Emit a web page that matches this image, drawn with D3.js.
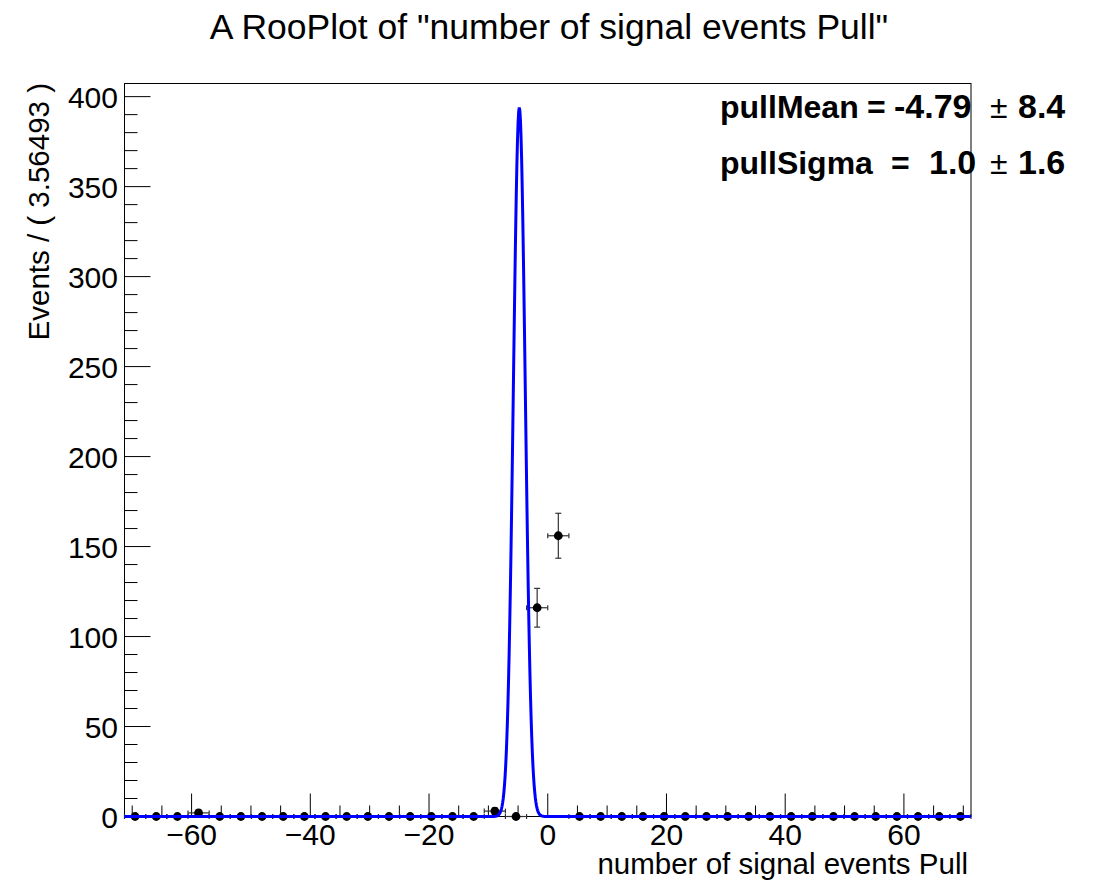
<!DOCTYPE html>
<html>
<head>
<meta charset="utf-8">
<script src="https://cdn.jsdelivr.net/npm/d3@7"></script>
<style>
body{margin:0;background:#fff;}
text{font-family:"Liberation Sans",Arial,Helvetica,sans-serif;}
</style>
</head>
<body>
<script>
// binned data: 40 bins of width 3.56493 over [-71.3, 71.3]
var xMin=-71.3;
var xMax=71.3;
var binWidth=3.56493;
var binCounts=[0,0,0,2,0,0,0,0,0,0,0,0,0,0,0,0,0,3,0,116,156,0,0,0,0,0,0,0,0,0,0,0,0,0,0,0,0,0,0,0];
// fit result shown in the box
var pullMean=-4.79;
var pullMeanErr=8.4;
var pullSigma=1.0;
var pullSigmaErr=1.6;
var xTicks=[-60,-40,-20,0,20,40,60];
var yTicks=[0,50,100,150,200,250,300,350,400];

var width=1101,height=881;
var frameL=124.5,frameR=971,frameT=83.5,frameB=816.5;

var svg=d3.select('body').append('svg')
  .attr('width',width).attr('height',height);

var x=d3.scaleLinear().domain([xMin,xMax]).range([frameL,frameR]);
var y=d3.scaleLinear().domain([0,407.3]).range([frameB,frameT]);

svg.append('text')
  .attr('x',549).attr('y',39)
  .attr('text-anchor','middle')
  .style('font-size','35.5px')
  .text('A RooPlot of "number of signal events Pull"');

// frame
svg.append('rect')
  .attr('x',frameL).attr('y',frameT)
  .attr('width',frameR-frameL).attr('height',frameB-frameT)
  .style('fill','none').style('stroke','#000').style('stroke-width',1);

// axis ticks (inside the frame)
var g=svg.append('g');
d3.range(-70,71,5).forEach(function(v){
  var major=(v%20===0);
  g.append('line')
    .attr('x1',x(v)).attr('x2',x(v))
    .attr('y1',frameB).attr('y2',frameB-(major?23:11))
    .style('stroke','#000').style('stroke-width',1);
});
xTicks.forEach(function(v){
  g.append('text')
    .attr('x',x(v)).attr('y',845)
    .attr('text-anchor','middle')
    .style('font-size','30px')
    .text(v<0?'\u2212'+Math.abs(v):v);
});
d3.range(0,401,10).forEach(function(v){
  var major=(v%50===0);
  g.append('line')
    .attr('x1',frameL).attr('x2',frameL+(major?26:13))
    .attr('y1',y(v)).attr('y2',y(v))
    .style('stroke','#000').style('stroke-width',1);
});
yTicks.forEach(function(v){
  g.append('text')
    .attr('x',118).attr('y',y(v)+11)
    .attr('text-anchor','end')
    .style('font-size','30px')
    .text(v);
});

svg.append('text')
  .attr('transform','translate(49,83) rotate(-90)')
  .attr('text-anchor','end')
  .style('font-size','29.5px')
  .text('Events / ( 3.56493 )');

svg.append('text')
  .attr('x',968).attr('y',874)
  .attr('text-anchor','end')
  .style('font-size','29.5px')
  .text('number of signal events Pull');

// data points with errors
var pts=binCounts.map(function(c,i){
  var lo=c>0?Math.sqrt(c):0;
  var hi=c>0?Math.sqrt(c):1.147;
  return {x:xMin+binWidth*(i+0.5),y:c,lo:lo,hi:hi};
});
var hw=binWidth/2;
var pg=svg.append('g').style('stroke','#333').style('stroke-width',1.2);
pts.forEach(function(d){
  var cx=x(d.x),cy=y(d.y);
  pg.append('line').attr('x1',x(d.x-hw)).attr('x2',x(d.x+hw)).attr('y1',cy).attr('y2',cy);
  pg.append('line').attr('x1',cx).attr('x2',cx).attr('y1',y(d.y-d.lo)).attr('y2',y(d.y+d.hi));
  [x(d.x-hw),x(d.x+hw)].forEach(function(ex){
    pg.append('line').attr('x1',ex).attr('x2',ex).attr('y1',cy-2.5).attr('y2',cy+2.5);
  });
  [y(d.y-d.lo),y(d.y+d.hi)].forEach(function(ey){
    if(d.y>0) pg.append('line').attr('x1',cx-3).attr('x2',cx+3).attr('y1',ey).attr('y2',ey);
  });
});
svg.append('g').selectAll('circle')
  .data(pts).enter().append('circle')
  .attr('cx',function(d){return x(d.x);})
  .attr('cy',function(d){return y(d.y);})
  .attr('r',4.4)
  .style('fill','#000');

// fitted gaussian curve, normalised to the number of events
var nEvents=d3.sum(binCounts);
var curve=d3.range(xMin,xMax+0.001,0.1).map(function(v){
  var z=(v-pullMean)/pullSigma;
  return [v,nEvents*binWidth*Math.exp(-0.5*z*z)/(Math.sqrt(2*Math.PI)*pullSigma)];
});
svg.append('path')
  .datum(curve)
  .attr('d',d3.line().x(function(d){return x(d[0]);}).y(function(d){return y(d[1]);}))
  .style('fill','none').style('stroke','#0000ff').style('stroke-width',3);

// fit parameter box text
var rows=[
  {label:'pullMean',eqX:867,val:pullMean.toFixed(2),valX:894,err:pullMeanErr.toFixed(1),yy:118},
  {label:'pullSigma',eqX:891,val:pullSigma.toFixed(1),valX:929,err:pullSigmaErr.toFixed(1),yy:174}
];
rows.forEach(function(r){
  svg.append('text').attr('x',720).attr('y',r.yy)
    .style('font-size','32px').style('font-weight','bold').text(r.label);
  svg.append('text').attr('x',r.eqX).attr('y',r.yy)
    .style('font-size','32px').style('font-weight','bold').text('=');
  svg.append('text').attr('x',r.valX).attr('y',r.yy)
    .style('font-size','34px').style('font-weight','bold').text(r.val);
  svg.append('text').attr('x',990).attr('y',r.yy)
    .style('font-size','32px').text('\u00b1');
  svg.append('text').attr('x',1018).attr('y',r.yy)
    .style('font-size','34px').style('font-weight','bold').text(r.err);
});
</script>
</body>
</html>
